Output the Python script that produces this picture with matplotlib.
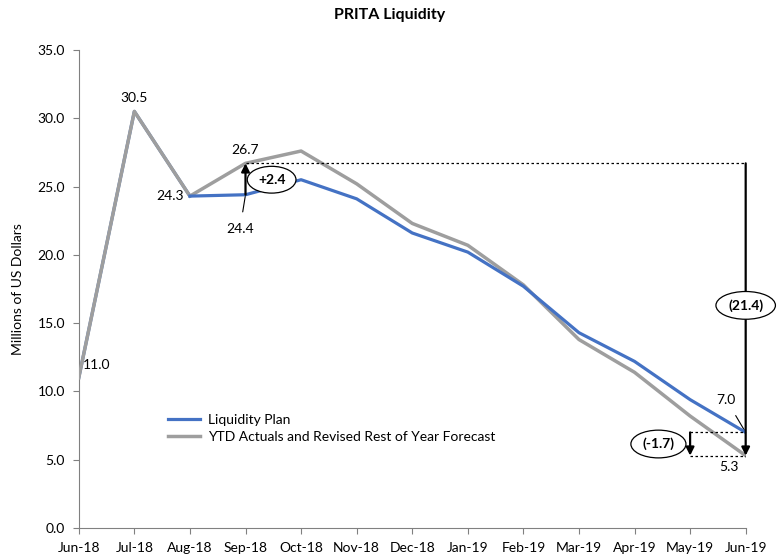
import matplotlib
matplotlib.use("Agg")
import matplotlib.pyplot as plt

plt.rcParams['font.family'] = ['Lato', 'DejaVu Sans']

months = ['Jun-18', 'Jul-18', 'Aug-18', 'Sep-18', 'Oct-18', 'Nov-18', 'Dec-18',
          'Jan-19', 'Feb-19', 'Mar-19', 'Apr-19', 'May-19', 'Jun-19']
plan = [11.0, 30.5, 24.3, 24.4, 25.5, 24.1, 21.6, 20.2, 17.7, 14.3, 12.2, 9.4, 7.0]
actual = [11.0, 30.5, 24.3, 26.7, 27.6, 25.2, 22.3, 20.7, 17.8, 13.8, 11.4, 8.2, 5.3]
variance_labels = ['+2.4', '(21.4)', '(-1.7)']

BLUE = '#4472C4'
GRAY = '#9E9E9E'
x = list(range(len(months)))

fig = plt.figure(figsize=(7.8, 5.55), dpi=100)
ax = fig.add_axes([0.101, 0.0486, 0.855, 0.8614])

ax.plot(x[:3], plan[:3], color=BLUE, lw=2.3, zorder=2)
ax.plot(x[2:], plan[2:], color=BLUE, lw=2.3, label='Liquidity Plan', zorder=4)
ax.plot(x, actual, color=GRAY, lw=2.5,
        label='YTD Actuals and Revised Rest of Year Forecast', zorder=3)

ax.set_xlim(0, 12)
ax.set_ylim(0, 35)
ax.set_yticks([0, 5, 10, 15, 20, 25, 30, 35])
ax.set_yticklabels(['%.1f' % v for v in ax.get_yticks()])
ax.set_xticks(x)
ax.set_xticklabels(months)
ax.tick_params(labelsize=10, length=4, color='#808080', pad=6)
for s in ['top', 'right']:
    ax.spines[s].set_visible(False)
for s in ['left', 'bottom']:
    ax.spines[s].set_color('#808080')
ax.set_ylabel('Millions of US Dollars', fontsize=10, labelpad=10)
fig.suptitle('PRITA Liquidity', fontsize=11.5, fontweight='bold', y=0.985)

# data labels
fs = 10
ax.text(0.32, actual[0] + 0.9, '%.1f' % actual[0], fontsize=fs, ha='center', va='center')
ax.text(1, actual[1] + 1.0, '%.1f' % actual[1], fontsize=fs, ha='center', va='center')
ax.text(1.64, actual[2], '%.1f' % actual[2], fontsize=fs, ha='center', va='center')
ax.text(3, actual[3] + 1.0, '%.1f' % actual[3], fontsize=fs, ha='center', va='center')
ax.annotate('%.1f' % plan[3], xy=(3, plan[3]), xytext=(2.9, 21.9), fontsize=fs,
            ha='center', va='center',
            arrowprops=dict(arrowstyle='-', color='black', lw=0.8, shrinkA=6, shrinkB=0))
ax.annotate('%.1f' % plan[12], xy=(12, plan[12]), xytext=(11.65, 9.4), fontsize=fs,
            ha='center', va='center',
            arrowprops=dict(arrowstyle='-', color='black', lw=0.8, shrinkA=6, shrinkB=0))
ax.text(11.69, 4.5, '%.1f' % actual[12], fontsize=fs, ha='center', va='center')

# variance arrows
arrow = dict(arrowstyle='-|>', color='black', lw=1.6, mutation_scale=12,
             shrinkA=0, shrinkB=0)
ax.annotate('', xy=(3, actual[3]), xytext=(3, plan[3]), arrowprops=arrow, zorder=5)
ax.annotate('', xy=(12, actual[12]), xytext=(12, actual[3]), arrowprops=arrow, zorder=5)
ax.annotate('', xy=(11, actual[12]), xytext=(11, plan[12]), arrowprops=arrow, zorder=5)

dot = dict(color='black', lw=0.9, ls=(0, (2, 2)), zorder=4)
ax.plot([3, 12], [actual[3], actual[3]], **dot)
ax.plot([11, 12], [plan[12], plan[12]], **dot)
ax.plot([11, 12], [actual[12], actual[12]], **dot)

ell = dict(boxstyle='ellipse,pad=0.25', fc='white', ec='black', lw=0.9)
ax.text(3.47, 25.5, variance_labels[0], fontsize=fs, fontweight='bold',
        ha='center', va='center', bbox=ell, zorder=6)
ax.text(12, 16.3, variance_labels[1], fontsize=fs, fontweight='bold',
        ha='center', va='center', bbox=ell, zorder=6, clip_on=False)
ax.text(10.43, 6.15, variance_labels[2], fontsize=fs, fontweight='bold',
        ha='center', va='center', bbox=ell, zorder=6)

ax.legend(loc='upper left', bbox_to_anchor=(0.115, 0.265), frameon=False, fontsize=10,
          handlelength=2.3, handletextpad=0.6, labelspacing=0.35)

fig.savefig('out.png', dpi=100)
